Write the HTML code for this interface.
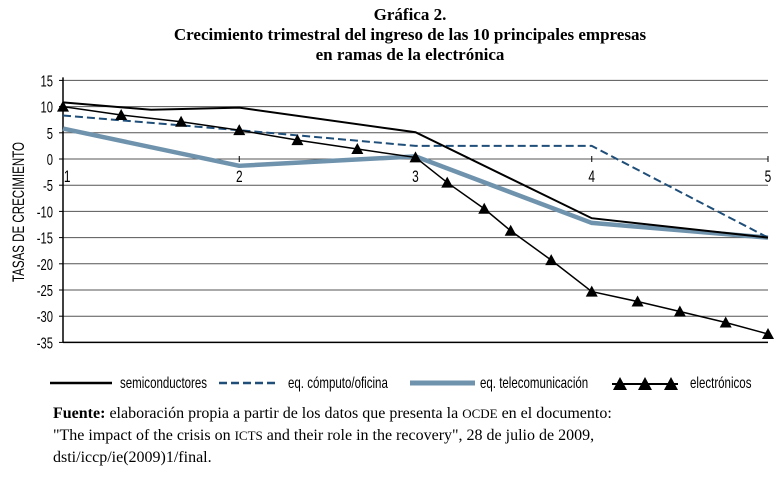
<!DOCTYPE html>
<html><head><meta charset="utf-8"><style>
body{margin:0;background:#fff;width:783px;height:472px;overflow:hidden}
svg text{font-family:"Liberation Sans",sans-serif}
.t{font-family:"Liberation Serif",serif;font-weight:bold;font-size:17px}
.f{font-family:"Liberation Serif",serif;font-size:16px}
</style></head><body>
<svg width="783" height="472" xmlns="http://www.w3.org/2000/svg">
<text class="t" x="410" y="20" text-anchor="middle">Gráfica 2.</text>
<text class="t" x="410" y="40" text-anchor="middle">Crecimiento trimestral del ingreso de las 10 principales empresas</text>
<text class="t" x="410" y="60" text-anchor="middle">en ramas de la electrónica</text>
<g id="grid"></g><g id="series"></g>
<text x="0" y="0" transform="translate(24,212) rotate(-90) scale(0.68,1)" text-anchor="middle" font-size="17">TASAS DE CRECIMIENTO</text>
<g id="legend" font-size="16">
<line x1="50" y1="383" x2="112" y2="383" stroke="#000" stroke-width="2.5"/>
<text x="120" y="388" transform="translate(120,0) scale(0.72,1) translate(-120,0)">semiconductores</text>
<line x1="219" y1="383" x2="276" y2="383" stroke="#1f4e79" stroke-width="2.5" stroke-dasharray="8,4"/>
<text x="288" y="388" transform="translate(288,0) scale(0.72,1) translate(-288,0)">eq. cómputo/oficina</text>
<line x1="410" y1="383" x2="475" y2="383" stroke="#6f93ac" stroke-width="5"/>
<text x="480" y="388" transform="translate(480,0) scale(0.72,1) translate(-480,0)">eq. telecomunicación</text>
<line x1="612" y1="384" x2="678" y2="384" stroke="#000" stroke-width="2"/>
<path d="M613,390 L620,377 L627,390Z M638,390 L645,377 L652,390Z M664,390 L671,377 L678,390Z" fill="#000"/>
<text x="690" y="388" transform="translate(690,0) scale(0.72,1) translate(-690,0)">electrónicos</text>
</g>
<text class="f" x="53" y="418"><tspan font-weight="bold">Fuente:</tspan> elaboración propia a partir de los datos que presenta la <tspan font-size="13">OCDE</tspan> en el documento:</text>
<text class="f" x="53" y="440">"The impact of the crisis on <tspan font-size="13">ICTS</tspan> and their role in the recovery", 28 de julio de 2009,</text>
<text class="f" x="53" y="462">dsti/iccp/ie(2009)1/final.</text>
</svg>
<script>
const categories=[1,2,3,4,5];
const yTicks=[15,10,5,0,-5,-10,-15,-20,-25,-30,-35];
const semiX=[1,1.5,2,3,4,5];
const semiV=[10.8,9.4,9.8,5.1,-11.3,-15];
const compX=[1,2,3,4,5];
const compV=[8.3,5.5,2.5,2.5,-15];
const telX=[1,2,3,4,5];
const telV=[5.8,-1.3,0.5,-12.2,-15];
const elecX=[1,1.33,1.67,2,2.33,2.67,3,3.18,3.39,3.54,3.77,4,4.26,4.5,4.76,5];
const elecV=[10,8.4,7.1,5.5,3.6,1.9,0.3,-4.5,-9.5,-13.7,-19.3,-25.3,-27.2,-29.1,-31.2,-33.4];
const NS="http://www.w3.org/2000/svg";
const xs=c=>63+(c-1)*176.25;
const ys=v=>159-v*5.24;
function mk(tag,attrs,parent){const e=document.createElementNS(NS,tag);for(const k in attrs)e.setAttribute(k,attrs[k]);parent.appendChild(e);return e;}
const grid=document.getElementById('grid');
yTicks.forEach(v=>{
 const l=mk('line',{x1:63,x2:768,y1:ys(v),y2:ys(v),stroke:v===-35?'#000':'#555','stroke-width':v===-35?1.5:1},grid);
 
 
 const t=mk('text',{x:53,y:ys(v)+6,'text-anchor':'end','font-size':16,transform:`translate(53,0) scale(0.7,1) translate(-53,0)`},grid);
 t.textContent=v;
 
 
 const tk=mk('line',{x1:59,x2:63,y1:ys(v),y2:ys(v),stroke:'#000'},grid);
 
 
});
const ax=mk('line',{x1:63,x2:63,y1:ys(15)-3,y2:ys(-35),stroke:'#000','stroke-width':1.5},grid);


categories.forEach(c=>{
 const tk=mk('line',{x1:xs(c),x2:xs(c),y1:ys(0)-3,y2:ys(0)+3,stroke:'#000'},grid);
 
 
 const t=mk('text',{x:xs(c)+(c===1?6:0),y:ys(0)+23,'text-anchor':'middle','font-size':17,transform:`translate(${xs(c)},0) scale(0.7,1) translate(${-xs(c)},0)`},grid);
 t.textContent=c;
 
 
});
const sg=document.getElementById('series');
function pts(X,V){return X.map((x,i)=>xs(x)+','+ys(V[i])).join(' ');}
let p=mk('polyline',{points:pts(telX,telV),fill:'none',stroke:'#6f93ac','stroke-width':4.5,'stroke-linejoin':'round'},sg);


p=mk('polyline',{points:pts(compX,compV),fill:'none',stroke:'#1f4e79','stroke-width':2,'stroke-dasharray':'8,4'},sg);


p=mk('polyline',{points:pts(semiX,semiV),fill:'none',stroke:'#000','stroke-width':2},sg);


p=mk('polyline',{points:pts(elecX,elecV),fill:'none',stroke:'#000','stroke-width':1.5},sg);


elecX.forEach((x,i)=>{
 const cx=xs(x),cy=ys(elecV[i]);
 const m=mk('path',{d:`M${cx-6},${cy+5} L${cx},${cy-6} L${cx+6},${cy+5}Z`,fill:'#000'},sg);
 
 
});
</script>
</body></html>
